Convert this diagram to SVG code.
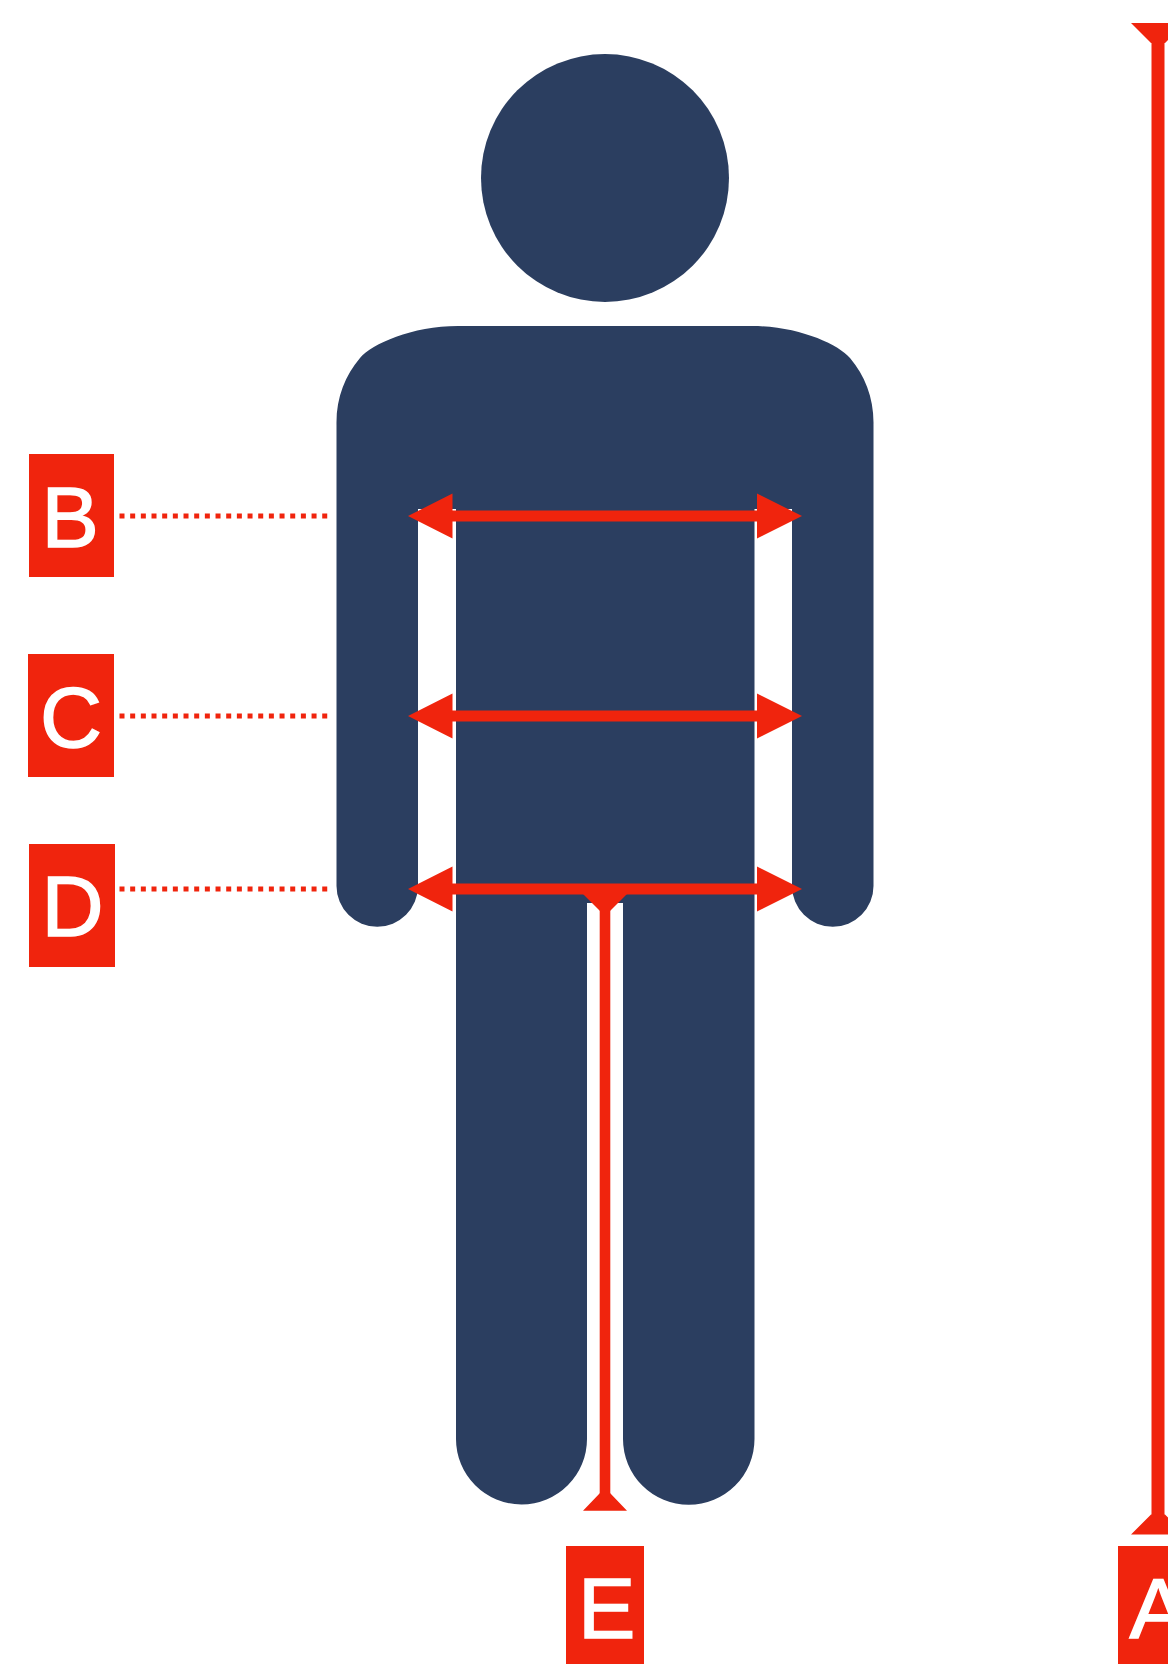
<svg xmlns="http://www.w3.org/2000/svg" width="1168" height="1664" viewBox="0 0 1168 1664">
<style>
.fig{fill:#2B3E60}
.box{fill:#F0240D}
.lab{fill:#fff;stroke:#fff;stroke-width:1.500;font-family:"Liberation Sans",Arial,sans-serif;font-size:86px}
.dot{fill:none;stroke:#F0240D;stroke-width:5;stroke-dasharray:5 5.67}
.bar{fill:none;stroke:#F0240D}
.head{fill:#F0240D}
</style>
<rect width="1168" height="1664" fill="#fff"/>
<g id="figure">
<circle class="fig" cx="605" cy="178" r="124"/>
<path class="fig" d="M336.500 425C336 398 345 376 360 358C372 344 412 326 458 326H752C798 326 838 344 850 358C865 376 874 398 873.500 425V886A40.750 40.750 0 0 1 792 886V509H754.500V1439A65.500 65.500 0 0 1 623 1439V903H587V1439A65.500 65.500 0 0 1 456 1439V509H418V886A40.750 40.750 0 0 1 336.500 886Z"/>
</g>
<g id="connectors">
<path class="dot" d="M119.500 516H328M119.500 716H328M119.500 889H328"/>
<path class="bar" stroke-width="11" d="M450 516H760M450 716H760M450 889H760"/>
<path class="bar" stroke-width="10.600" d="M605 900V1495"/>
<path class="bar" stroke-width="13" d="M1158 30V1525"/>
<path class="head" d="M408 516L452.500 493.500V538.500ZM802 516L757 493.500V538.500ZM408 716L452.500 693.500V738.500ZM802 716L757 693.500V738.500ZM408 889L452.500 866.500V911.500ZM802 889L757 866.500V911.500Z"/>
<path class="head" d="M583 894H627L610 911H600ZM583 1510.700H627L610 1493H600Z"/>
<path class="head" d="M1131 23H1185L1165 43H1151ZM1131 1534.500H1185L1165 1514.500H1151Z"/>
</g>
<g id="label-a"><rect class="box" x="1118" y="1546" width="60" height="118"/><text class="lab" x="1129.500" y="1638">A</text></g>
<g id="label-b"><rect class="box" x="29" y="454" width="85" height="123"/><text class="lab" x="41.500" y="547">B</text></g>
<g id="label-c"><rect class="box" x="28" y="654" width="86" height="123"/><text class="lab" x="40" y="747">C</text></g>
<g id="label-d"><rect class="box" x="29" y="844" width="86" height="123"/><text class="lab" x="41.500" y="936">D</text></g>
<g id="label-e"><rect class="box" x="566" y="1546" width="78" height="118"/><text class="lab" x="578" y="1638">E</text></g>
</svg>
